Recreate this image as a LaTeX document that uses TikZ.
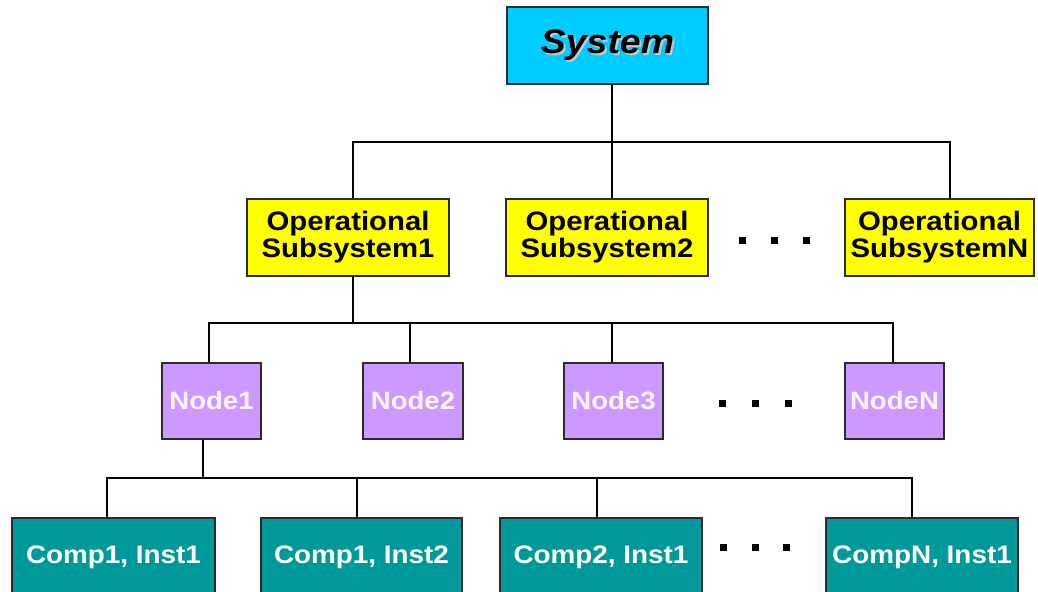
\documentclass[tikz,border=0pt]{standalone}
\usepackage{fontspec}
\setmainfont[FakeStretch=1.1]{Liberation Sans}
\definecolor{syscol}{HTML}{00CCFF}
\definecolor{opcol}{HTML}{FFFF00}
\definecolor{nodecol}{HTML}{CC99FF}
\definecolor{compcol}{HTML}{009999}
\definecolor{edgecol}{HTML}{2B2B2B}
\definecolor{nodetext}{HTML}{FFF4FF}
\tikzset{
  box/.style={draw=edgecol, line width=1pt, inner sep=0pt, align=center, font=\bfseries},
  sysbox/.style={box, fill=syscol, minimum width={201*0.75pt}, minimum height={77*0.75pt}},
  opbox/.style={box, fill=opcol, minimum height={77*0.75pt}, font=\fontsize{20}{20.25}\selectfont\bfseries},
  nbox/.style={box, fill=nodecol, minimum width={99*0.75pt}, minimum height={76*0.75pt}, text=nodetext, font=\fontsize{18.8}{20}\selectfont\bfseries},
  cbox/.style={box, fill=compcol, minimum height={78*0.75pt}, text=white, font=\fontsize{19}{20}\selectfont\bfseries},
  conn/.style={draw=black, line width=1.5pt},
  dotsq/.style={fill=black, inner sep=0pt, minimum size={7*0.75pt}}
}
\begin{document}
\begin{tikzpicture}[x=0.75pt, y=-0.75pt]
\useasboundingbox (0,0) rectangle (1038,592);
% top
\node[sysbox] (sys) at (607.5,45.5) {};
\node[text=gray!45, font=\fontsize{25.5}{27}\selectfont\bfseries\itshape] (sysshadow) at (609.5,47.5) {System};
\node[text=black, font=\fontsize{25.5}{27}\selectfont\bfseries\itshape] (systext) at (607.5,45.5) {System};
% operational subsystems
\node[opbox, minimum width={202*0.75pt}] (op1) at (348,237.5) {Operational\\Subsystem1};
\node[opbox, minimum width={202*0.75pt}] (op2) at (607,237.5) {Operational\\Subsystem2};
\node[opbox, minimum width={189*0.75pt}] (opN) at (939.5,237.5) {Operational\\SubsystemN};
\node[dotsq] (d1a) at (742,240) {};
\node[dotsq] (d1b) at (774,240) {};
\node[dotsq] (d1c) at (806,240) {};
% nodes
\node[nbox] (n1) at (211.5,401) {Node1};
\node[nbox, minimum width={100*0.75pt}] (n2) at (413,401) {Node2};
\node[nbox] (n3) at (613.5,401) {Node3};
\node[nbox] (nN) at (894.5,401) {NodeN};
\node[dotsq] (d2a) at (722,403) {};
\node[dotsq] (d2b) at (755,403) {};
\node[dotsq] (d2c) at (788,403) {};
% components
\node[cbox, minimum width={203*0.75pt}] (c1) at (113.5,557) {Comp1, Inst1};
\node[cbox, minimum width={201*0.75pt}] (c2) at (361.5,557) {Comp1, Inst2};
\node[cbox, minimum width={202*0.75pt}] (c3) at (601,557) {Comp2, Inst1};
\node[cbox, minimum width={192*0.75pt}] (cN) at (922,557) {CompN, Inst1};
\node[dotsq] (d3a) at (723,547) {};
\node[dotsq] (d3b) at (755,547) {};
\node[dotsq] (d3c) at (786,547) {};
% bus coordinates level 1
\coordinate (t1) at (353,142);
\coordinate (t2) at (612,142);
\coordinate (tN) at (950,142);
\draw[conn] (t1 |- op1.north) -- (t1) -- (tN) -- (tN |- opN.north);
\draw[conn] (t2 |- sys.south) -- (t2 |- op2.north);
% level 2
\coordinate (u0) at (353,323);
\coordinate (u1) at (209,323);
\coordinate (u2) at (410,323);
\coordinate (u3) at (612,323);
\coordinate (uN) at (893,323);
\draw[conn] (u0 |- op1.south) -- (u0);
\draw[conn] (u1 |- n1.north) -- (u1) -- (uN) -- (uN |- nN.north);
\draw[conn] (u2) -- (u2 |- n2.north);
\draw[conn] (u3) -- (u3 |- n3.north);
% level 3
\coordinate (v0) at (203,478);
\coordinate (v1) at (107,478);
\coordinate (v2) at (357,478);
\coordinate (v3) at (597,478);
\coordinate (vN) at (912,478);
\draw[conn] (v0 |- n1.south) -- (v0);
\draw[conn] (v1 |- c1.north) -- (v1) -- (vN) -- (vN |- cN.north);
\draw[conn] (v2) -- (v2 |- c2.north);
\draw[conn] (v3) -- (v3 |- c3.north);
\end{tikzpicture}
\end{document}
